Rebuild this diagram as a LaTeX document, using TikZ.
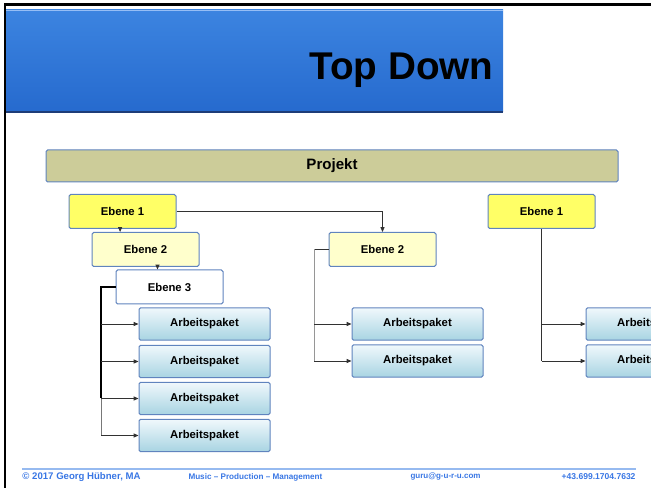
\documentclass[tikz,border=0pt]{standalone}
\usepackage{fontspec}
\setmainfont{Liberation Sans}
\usetikzlibrary{arrows.meta}

\definecolor{titleblue}{RGB}{38,106,206}
\definecolor{titlelight}{RGB}{60,132,224}
\definecolor{projfill}{RGB}{204,204,153}
\definecolor{boxline}{RGB}{96,132,190}
\definecolor{levelone}{RGB}{255,255,102}
\definecolor{leveltwo}{RGB}{255,255,204}
\definecolor{pkgtop}{RGB}{240,248,252}
\definecolor{pkgbottom}{RGB}{168,212,226}
\definecolor{footblue}{RGB}{56,118,228}
\definecolor{footline}{RGB}{150,186,240}

\tikzset{every picture/.style={line width=0.75pt}}
\tikzset{
  box/.style={draw=boxline, rounded corners=1.2pt, inner sep=0pt, font=\bfseries\fontsize{8.5}{10}\selectfont},
  levelbox/.style={box, minimum width=80.25pt, minimum height=25.5pt},
  pkgbox/.style={box, top color=pkgtop, bottom color=pkgbottom, minimum width=98.25pt, minimum height=24.3pt},
  conn/.style={draw={rgb,255:red,50;green,50;blue,50}, line width=0.6pt},
  arr/.style={conn, -{Triangle[length=3.6pt,width=3pt]}},
  foot/.style={inner sep=0pt, text=footblue, font=\bfseries},
}

\begin{document}
\begin{tikzpicture}[x=0.75pt,y=0.75pt,yscale=-1,xscale=1]
\useasboundingbox (0,0) rectangle (651,488);
\clip (0,0) rectangle (651,488);

%Shape: Rectangle (title bar)
\shade [top color=titlelight, bottom color=titleblue] (6,10) rectangle (503,112);
\draw [color={rgb, 255:red, 30; green, 60; blue, 120 }, line width=1pt] (6,112) -- (503,112);
\draw [color={rgb, 255:red, 150; green, 190; blue, 245 }, line width=0.6pt] (6,10.3) -- (503,10.3);
% Text Node
\node (title) [anchor=base east, inner sep=0pt, font=\bfseries\fontsize{29}{34}\selectfont] at (494,80) {Top Down};

%Straight Lines (frame)
\draw [line width=1.8pt] (5,488) -- (5,4.5) -- (651,4.5);

%Shape: Rectangle (Projekt)
\node (proj) [box, fill=projfill, minimum width=429pt, minimum height=24pt, font=\bfseries\fontsize{11.3}{13}\selectfont] at (332,166) {Projekt};

% left branch
\node (eA1) [levelbox, fill=levelone] at (122.5,211.5) {Ebene 1};
\node (eA2) [levelbox, fill=leveltwo] at (145.5,249.5) {Ebene 2};
\node (eA3) [levelbox, fill=white] at (169.5,287) {Ebene 3};
\node (apA1) [pkgbox] at (204.5,324) {Arbeitspaket};
\node (apA2) [pkgbox] at (204.5,361.5) {Arbeitspaket};
\node (apA3) [pkgbox] at (204.5,398.5) {Arbeitspaket};
\node (apA4) [pkgbox] at (204.5,435.5) {Arbeitspaket};

% middle branch
\node (eB2) [levelbox, fill=leveltwo] at (382.5,249.5) {Ebene 2};
\node (apB1) [pkgbox] at (417.5,324) {Arbeitspaket};
\node (apB2) [pkgbox] at (417.5,361) {Arbeitspaket};

% right branch
\node (eC1) [levelbox, fill=levelone] at (541.5,211.5) {Ebene 1};
\node (apC1) [pkgbox] at (651.5,324) {Arbeitspaket};
\node (apC2) [pkgbox] at (651.5,361) {Arbeitspaket};

%Straight Lines
\draw [arr] ([xshift=-1.8pt]eA1.south) -- ([xshift=-1.8pt]eA1.south |- eA2.north);
\draw [arr] ([xshift=9pt]eA2.south) -- ([xshift=9pt]eA2.south |- eA3.north);
\coordinate (tA) at (101,287);
\draw [conn, line width=1.3pt, draw=black] (eA3.west) -- (tA) -- (tA |- apA3.west);
\draw [conn, draw={rgb,255:red,120;green,120;blue,120}] (tA |- apA3.west) -- (tA |- apA4.west);
\foreach \i in {1,...,4}
  \draw [arr] (tA |- apA\i.west) -- (apA\i.west);

\draw [arr] (eA1.east) -| (eB2.north);
\coordinate (tB) at (314,249.5);
\draw [conn] (eB2.west) -- (tB);
\draw [conn, draw={rgb,255:red,150;green,150;blue,150}] (tB) -- (tB |- apB2.west);
\foreach \i in {1,2}
  \draw [arr] (tB |- apB\i.west) -- (apB\i.west);

\draw [conn] (eC1.south) -- (eC1.south |- apC2.west);
\foreach \i in {1,2}
  \draw [arr] (eC1.south |- apC\i.west) -- (apC\i.west);

%Straight Lines (footer)
\draw [color=footline, line width=1.2pt] (22,469) -- (636,469);
% Text Node
\node (copy) [foot, anchor=west, font=\bfseries\fontsize{7.2}{9}\selectfont] at (22,477) {© 2017 Georg Hübner, MA};
% Text Node
\node (motto) [foot, anchor=west, font=\bfseries\fontsize{6.1}{8}\selectfont] at (188,477) {Music – Production – Management};
% Text Node
\node (mail) [foot, anchor=west, font=\bfseries\fontsize{6}{8}\selectfont] at (410,477) {guru@g-u-r-u.com};
% Text Node
\node (phone) [foot, anchor=east, font=\bfseries\fontsize{6.4}{8}\selectfont] at (636,477) {+43.699.1704.7632};
\end{tikzpicture}
\end{document}
